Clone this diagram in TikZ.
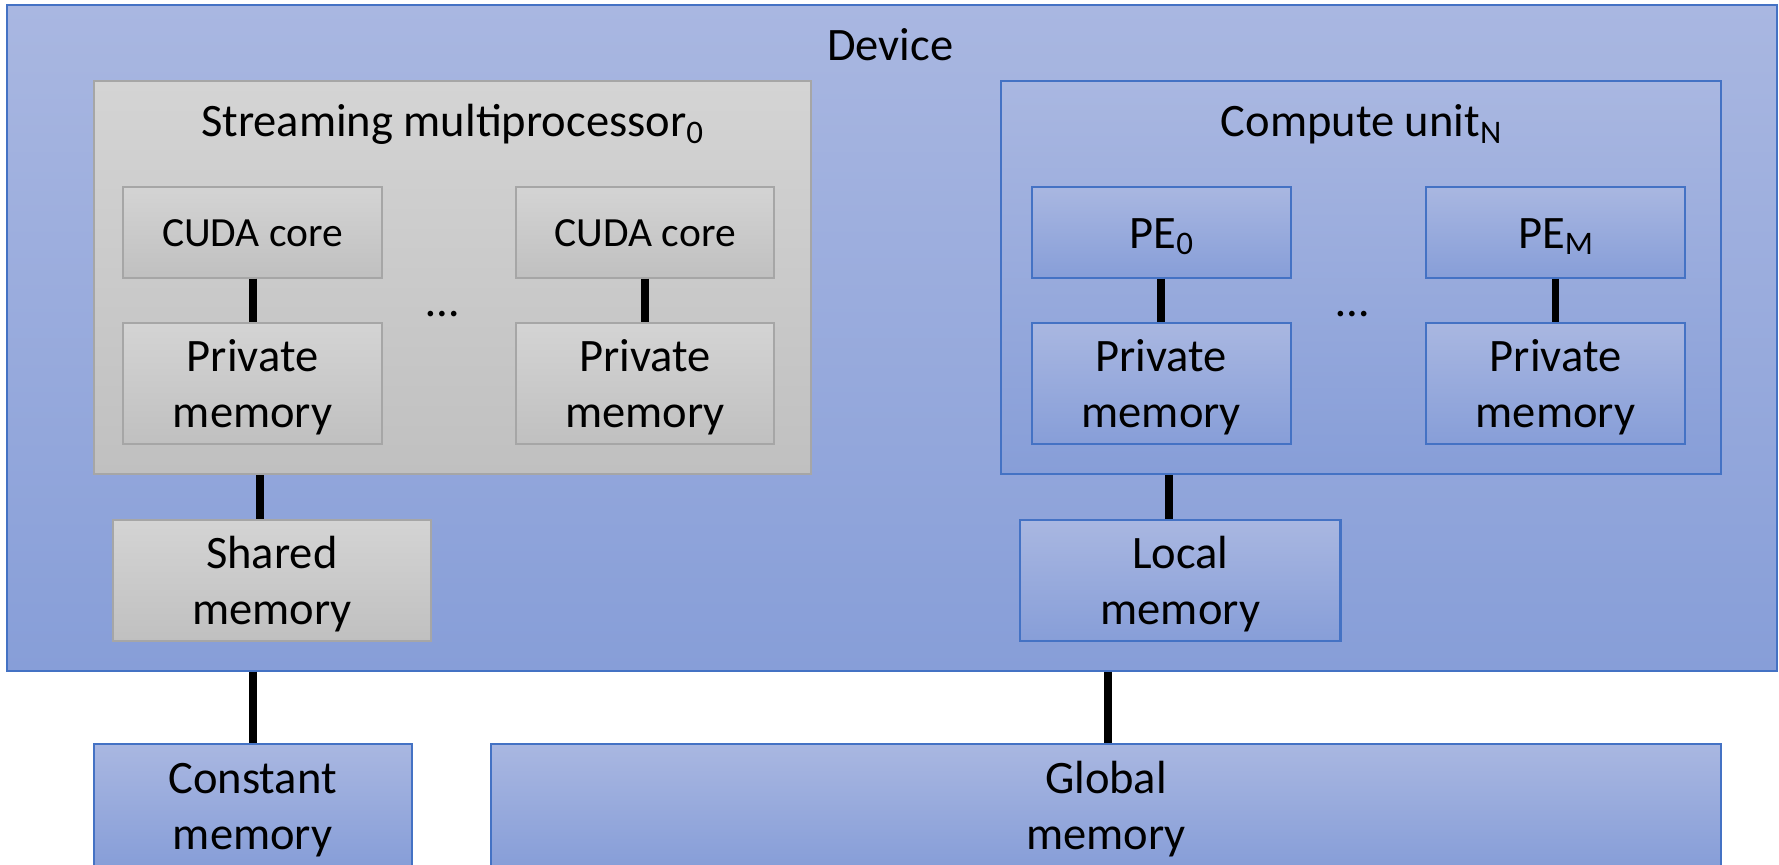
\documentclass[tikz,border=0pt]{standalone}
\usepackage{fontspec}
\setmainfont{Carlito}
\definecolor{bluetop}{RGB}{169,183,225}
\definecolor{bluebot}{RGB}{135,158,216}
\definecolor{blueline}{RGB}{68,114,196}
\definecolor{graytop}{RGB}{212,212,212}
\definecolor{graybot}{RGB}{192,192,192}
\definecolor{grayline}{RGB}{166,166,166}
\newcommand\mystrut{\rule[-0.25em]{0pt}{1.2em}}
\newcommand\mysub[1]{\raisebox{-2.8pt}{\fontsize{14.5}{14.5}\selectfont #1}}
\newcommand\bigf{\fontsize{20.5}{24.6}\selectfont}
\newcommand\smallf{\fontsize{18.3}{22}\selectfont}
\tikzset{
  x=0.5pt, y=-0.5pt,
  boxbase/.style={line width=0.9pt, inner sep=0pt, align=center, font=\bigf, rectangle},
  bluebox/.style={boxbase, draw=blueline, top color=bluetop, bottom color=bluebot},
  graybox/.style={boxbase, draw=grayline, top color=graytop, bottom color=graybot},
  sz/.style 2 args={minimum width=#1*0.5pt, minimum height=#2*0.5pt},
  lbl/.style={font=\bigf, anchor=base, inner sep=0pt},
  conn/.style={line width=3.5pt, draw=black}
}
\begin{document}
\begin{tikzpicture}
\path[use as bounding box] (0,0) rectangle (1568,762);
\clip (0,0) rectangle (1568,762);
\fill[white] (0,0) rectangle (1568,762);

% Device
\node[bluebox, sz={1560}{586.5}] (device) at (786,297.75) {};
\node[lbl] (devlabel) at (784.5,53.5) {Device};

% Streaming multiprocessor
\node[graybox, sz={632}{347}] (sm) at (398.5,244.5) {};
\node[lbl] (smlabel) at (398.5,120.5) {Streaming multiprocessor\mysub{0}};
\node[graybox, font=\smallf, sz={227.7}{80.2}] (cuda1) at (222.65,204.6) {\mystrut CUDA core};
\node[graybox, font=\smallf, sz={227.7}{80.2}] (cuda2) at (568.7,204.6) {\mystrut CUDA core};
\node[graybox, sz={227.7}{106.9}] (pm1) at (222.65,337.85) {\mystrut Private\\\mystrut memory};
\node[graybox, sz={227.7}{106.9}] (pm2) at (568.7,337.85) {\mystrut Private\\\mystrut memory};
\node[lbl] (dots1) at (390,279) {…};
\node[graybox, sz={279.8}{106.7}] (shared) at (239.6,511.35) {\mystrut Shared\\\mystrut memory};

% Compute unit
\node[bluebox, sz={634.5}{347}] (cu) at (1199.75,244.5) {};
\node[lbl] (culabel) at (1199.7,120.5) {Compute unit\mysub{N}};
\node[bluebox, sz={228.3}{80.2}] (pe0) at (1023.55,204.6) {\mystrut PE\mysub{0}};
\node[bluebox, sz={228.3}{80.2}] (pem) at (1371,204.6) {\mystrut PE\mysub{M}};
\node[bluebox, sz={228.3}{106.9}] (pm3) at (1023.55,337.85) {\mystrut Private\\\mystrut memory};
\node[bluebox, sz={228.3}{106.9}] (pm4) at (1371,337.85) {\mystrut Private\\\mystrut memory};
\node[lbl] (dots2) at (1192,279) {…};
\node[bluebox, sz={282.3}{106.7}] (local) at (1040.35,511.35) {\mystrut Local\\\mystrut memory};

% Outside memories
\node[bluebox, sz={280.3}{107.2}] (constant) at (222.65,709.4) {\mystrut Constant\\\mystrut memory};
\node[bluebox, sz={1084.4}{107.2}] (global) at (974.8,709.4) {\mystrut Global\\\mystrut memory};

% Connector positions
\coordinate (smx) at (229,0);
\coordinate (cux) at (1030,0);
\coordinate (globx) at (976.6,0);

% Connectors
\draw[conn] (cuda1) -- (pm1);
\draw[conn] (cuda2) -- (pm2);
\draw[conn] (pe0) -- (pm3);
\draw[conn] (pem) -- (pm4);
\draw[conn] (sm.south -| smx) -- (shared.north -| smx);
\draw[conn] (cu.south -| cux) -- (local.north -| cux);
\draw[conn] (device.south -| constant.north) -- (constant.north);
\draw[conn] (device.south -| globx) -- (global.north -| globx);
\end{tikzpicture}
\end{document}
